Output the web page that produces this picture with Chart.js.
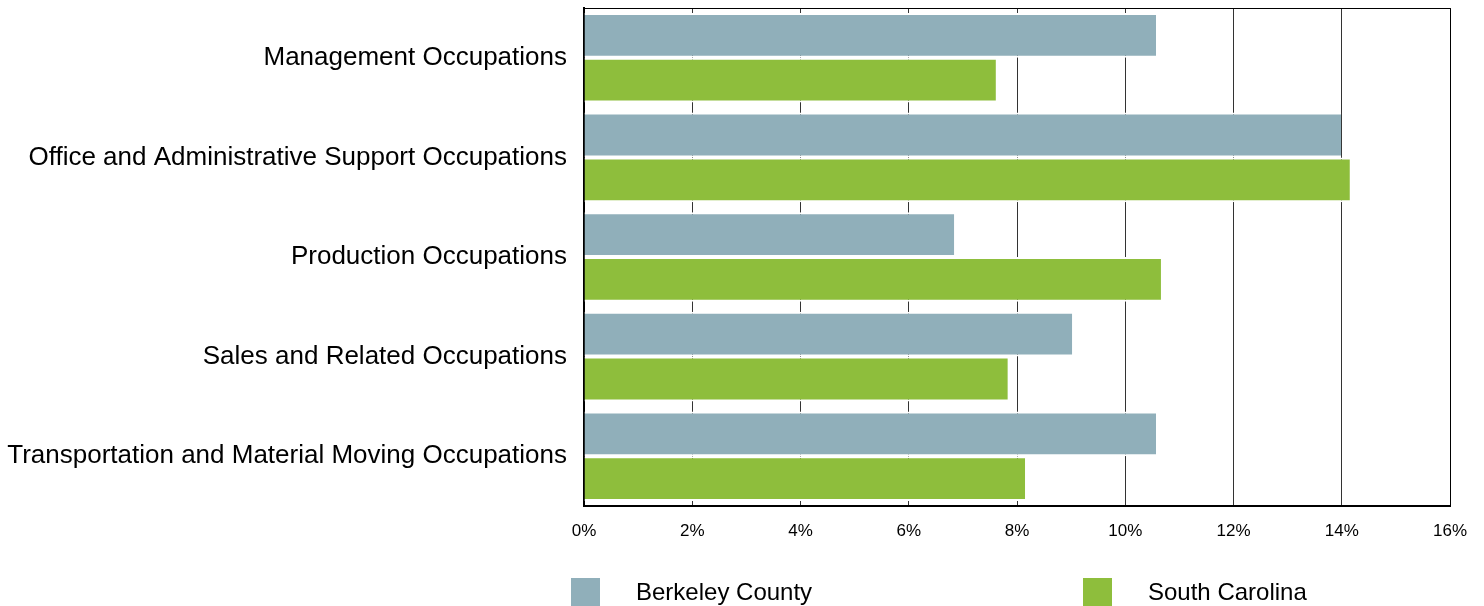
<!DOCTYPE html>
<html>
  <head>
    <script src="https://cdn.jsdelivr.net/npm/chart.js@4.4.0/dist/chart.umd.min.js"></script>
    <style>
      body { margin: 0; background: #fff; font-family: "Liberation Sans", Arial, sans-serif; }
      .chart-container { position: relative; width: 1484px; height: 606px; }
      .legend-item { position: absolute; top: 577px; height: 30px; display: flex; align-items: center; font-size: 24px; color: #000; }
      .legend-box { width: 29px; height: 29px; margin-right: 36px; }
    </style>
  </head>
  <body>
    <div class="chart-container">
      <canvas id="myChart" width="1484" height="606"></canvas>
      <div id="legend"></div>
    </div>
    <script>
      // categories and values (percent of employment)
      var categories = [
        "Management Occupations",
        "Office and Administrative Support Occupations",
        "Production Occupations",
        "Sales and Related Occupations",
        "Transportation and Material Moving Occupations"
      ];
      var berkeleyValues = [10.57, 13.99, 6.84, 9.02, 10.57];
      var southCarolinaValues = [7.61, 14.15, 10.66, 7.83, 8.15];
      var seriesNames = ["Berkeley County", "South Carolina"];
      var seriesColors = ["#90afba", "#8ebe3c"];

      // frame round the plot area (top and right edges)
      var framePlugin = {
        id: "frame",
        afterDraw: function (chart) {
          var a = chart.chartArea;
          var ctx = chart.ctx;
          ctx.save();
          ctx.strokeStyle = "#000";
          ctx.lineWidth = 1;
          ctx.beginPath();
          ctx.moveTo(a.left, a.top + 0.5);
          ctx.lineTo(a.right + 0.5, a.top + 0.5);
          ctx.lineTo(a.right + 0.5, a.bottom);
          ctx.stroke();
          ctx.restore();
        }
      };

      var ctx = document.getElementById("myChart").getContext("2d");
      var chart = new Chart(ctx, {
        type: "bar",
        data: {
          labels: categories,
          datasets: [
            {
              label: seriesNames[0],
              data: berkeleyValues,
              backgroundColor: seriesColors[0],
              borderColor: "#fff",
              borderWidth: { top: 2, bottom: 2, left: 0, right: 0 },
              borderSkipped: false
            },
            {
              label: seriesNames[1],
              data: southCarolinaValues,
              backgroundColor: seriesColors[1],
              borderColor: "#fff",
              borderWidth: { top: 2, bottom: 2, left: 0, right: 0 },
              borderSkipped: false
            }
          ]
        },
        options: {
          indexAxis: "y",
          responsive: false,
          animation: false,
          layout: { padding: { top: 8, right: 34, bottom: 0, left: 0 } },
          datasets: { bar: { categoryPercentage: 0.9, barPercentage: 1.0 } },
          scales: {
            x: {
              min: 0,
              max: 16,
              ticks: {
                stepSize: 2,
                color: "#000",
                padding: 15,
                font: { family: "Liberation Sans", size: 17 },
                callback: function (v) { return v + "%"; }
              },
              grid: { color: "#333", lineWidth: 1, drawTicks: false },
              border: { color: "#000", width: 2 },
              afterFit: function (scale) { scale.height = 100; }
            },
            y: {
              ticks: {
                color: "#000",
                padding: 17,
                font: { family: "Liberation Sans", size: 26 }
              },
              grid: { display: false, drawTicks: false },
              border: { color: "#000", width: 2 },
              afterFit: function (scale) {
                scale.width = 584;
                scale.paddingTop = 0;
                scale.paddingBottom = 0;
              }
            }
          },
          plugins: {
            legend: { display: false },
            tooltip: { enabled: false }
          }
        },
        plugins: [framePlugin]
      });

      // legend below the chart
      var legendLeft = [571, 1083];
      var legend = document.getElementById("legend");
      seriesNames.forEach(function (name, i) {
        var item = document.createElement("div");
        item.className = "legend-item";
        item.style.left = legendLeft[i] + "px";
        var box = document.createElement("div");
        box.className = "legend-box";
        box.style.background = seriesColors[i];
        var text = document.createElement("span");
        text.textContent = name;
        item.appendChild(box);
        item.appendChild(text);
        legend.appendChild(item);
      });
    </script>
  </body>
</html>
